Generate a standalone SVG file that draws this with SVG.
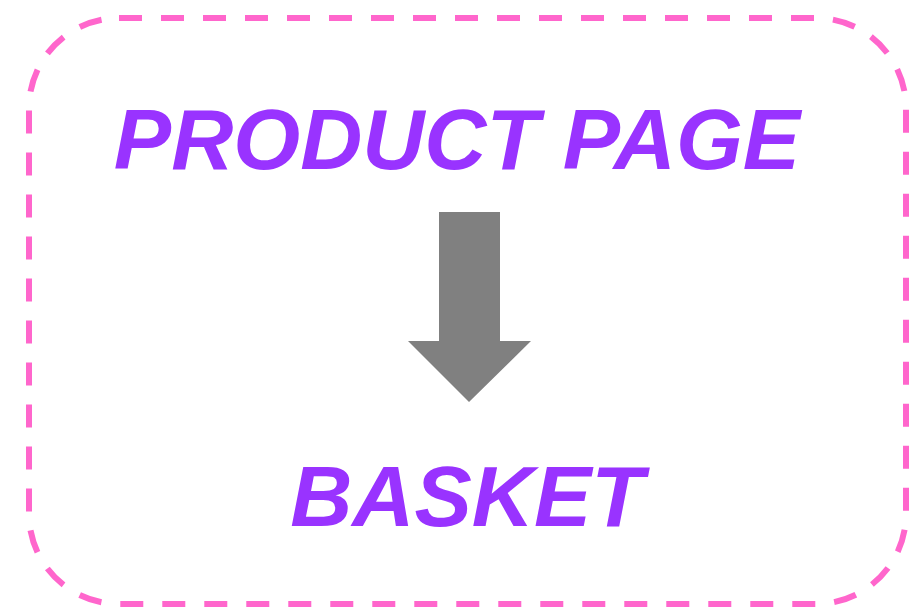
<svg xmlns="http://www.w3.org/2000/svg" width="909" height="610" viewBox="0 0 909 610">
<style>
.lbl{font-family:"Liberation Sans",Arial,sans-serif;font-weight:bold;font-style:italic;font-size:86px;fill:#9933ff;text-anchor:middle}
</style>
<rect width="909" height="610" fill="#ffffff"/>
<g id="frame">
<rect x="29" y="18" width="877" height="586" rx="90" ry="90" fill="none" stroke="#ff66cc" stroke-width="6" stroke-dasharray="23 19"/>
</g>
<g id="product-page">
<text class="lbl" x="457" y="169">PRODUCT PAGE</text>
</g>
<g id="basket">
<text class="lbl" x="467" y="526">BASKET</text>
</g>
<g id="connectors">
<polygon points="439,212 500,212 500,341 531,341 469,402 408,341 439,341" fill="#808080"/>
</g>
</svg>
